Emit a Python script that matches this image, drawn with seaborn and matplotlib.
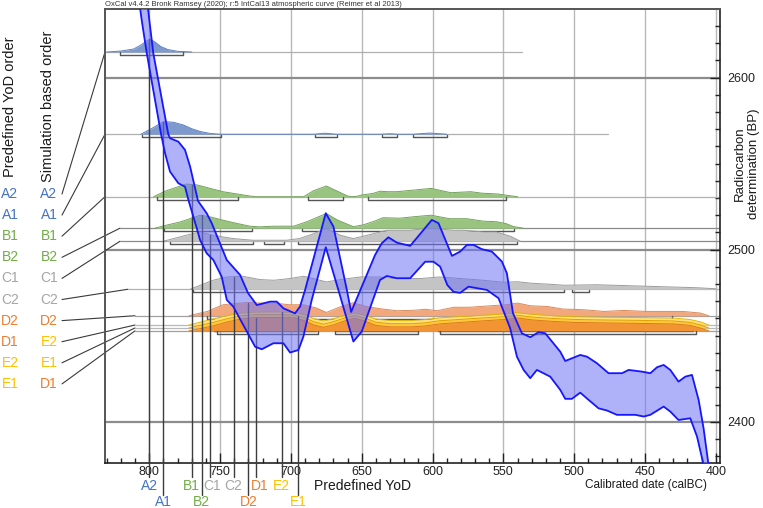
import numpy as np
import matplotlib
matplotlib.use("Agg")
import matplotlib.pyplot as plt
import matplotlib.transforms as mtransforms
import seaborn as sns

sns.set_theme(style="white")
plt.rcParams["font.family"] = ["Liberation Sans", "DejaVu Sans"]

# ---------------- data ----------------
# IntCal13 band: upper and lower edge (calBC, BP)
hi_bc = [801.6, 800.0, 797.2, 786.6, 785.4, 779.5, 774.8, 771.2, 765.6, 759.5, 755.9, 745.3,
         735.9, 730.3, 724.1, 714.7, 710.0, 705.3, 697.1, 693.6, 690.0, 675.4, 670.0, 660.5,
         657.5, 646.5, 640.6, 635.9, 631.2, 625.2, 615.8, 600.5, 595.8, 586.3, 580.5, 575.7,
         571.1, 565.2, 558.1, 551.0, 547.5, 543.2, 536.9, 531.0, 525.2, 520.4, 509.8, 506.3,
         495.7, 490.9, 483.9, 475.7, 466.2, 461.5, 452.0, 446.2, 441.4, 436.8, 432.1, 426.3,
         421.5, 416.8, 412.1, 408.6, 405.1, 403.5]
hi_bp = [2645.2, 2633.5, 2614.2, 2567.1, 2564.8, 2562.8, 2558.0, 2548.3, 2528.3, 2521.2, 2515.3, 2494.0,
         2485.3, 2474.8, 2467.8, 2469.8, 2469.8, 2465.9, 2463.0, 2466.9, 2476.6, 2521.2, 2513.4, 2476.6,
         2463.8, 2485.3, 2496.9, 2503.7, 2507.2, 2504.1, 2502.2, 2517.3, 2515.4, 2496.4, 2498.9, 2502.8,
         2502.8, 2500.3, 2498.9, 2493.1, 2486.3, 2463.1, 2451.4, 2449.1, 2452.0, 2451.4, 2440.7, 2435.3,
         2438.8, 2437.8, 2434.0, 2428.2, 2428.2, 2430.1, 2429.1, 2428.2, 2431.7, 2433.0, 2430.1, 2423.3,
         2426.2, 2427.2, 2412.7, 2396.2, 2374.9, 2365.0]
lo_bc = [807.3, 805.4, 801.8, 791.7, 788.9, 785.4, 779.5, 774.8, 772.4, 766.5, 764.2, 759.5,
         754.8, 748.9, 745.3, 740.7, 725.3, 720.6, 712.4, 705.3, 700.6, 694.7, 691.2, 685.3,
         675.4, 666.5, 655.9, 650.0, 637.1, 632.3, 625.2, 615.8, 605.2, 599.3, 594.6, 589.6,
         585.2, 580.5, 574.6, 561.6, 553.4, 545.2, 540.4, 535.7, 531.0, 526.3, 516.9, 509.8,
         506.3, 501.6, 495.7, 489.8, 482.8, 476.8, 469.8, 456.8, 450.9, 446.2, 436.8, 432.1,
         426.3, 418.0, 413.2, 408.6, 407.0]
lo_bp = [2645.2, 2633.5, 2614.2, 2567.1, 2556.1, 2545.4, 2538.6, 2536.6, 2528.9, 2512.5, 2505.7, 2497.9,
         2494.0, 2484.3, 2470.8, 2466.9, 2443.6, 2442.1, 2445.6, 2445.6, 2440.2, 2441.7, 2449.5, 2470.8,
         2501.4, 2476.6, 2446.6, 2452.4, 2482.4, 2484.7, 2483.4, 2483.4, 2493.0, 2493.0, 2490.1, 2479.5,
         2475.5, 2474.9, 2478.5, 2476.6, 2471.8, 2454.4, 2437.8, 2430.1, 2425.3, 2430.1, 2426.2, 2418.5,
         2413.3, 2413.3, 2416.9, 2412.7, 2407.8, 2406.5, 2404.0, 2404.0, 2403.0, 2404.0, 2408.8, 2405.9,
         2401.0, 2402.0, 2391.3, 2374.9, 2365.0]

# simulated distributions (calBC, relative height) and 95% ranges
a2_bc = [830, 820, 811, 806, 802, 799.5, 796, 792, 787, 780, 770]
a2_h = [0, 1, 3, 7, 11, 13, 10, 5.5, 2.5, 0.7, 0]
a2_rng = [(820.7, 776.4)]

a1_bc = [806, 798, 790, 783, 776, 770, 764, 757, 750, 684, 676, 668, 637, 630, 624, 614, 602, 590]
a1_h = [0, 6, 12.7, 12, 9.3, 5.5, 2.7, 0.8, 0, 0, 1, 0, 0, 0.5, 0, 0, 1.2, 0]
a1_rng = [(805, 749.3), (683, 667.5), (636, 625), (614, 590)]

b1_bc = [797, 788, 778, 774, 766, 757, 748, 738, 729, 725, 691, 684, 675, 668, 660, 657, 653, 650,
         642, 637, 632, 625, 618, 601, 587, 573, 565, 554, 548, 540]
b1_h = [0, 6, 10.7, 12.7, 11.7, 8.3, 5, 2.7, 0.7, 0, 0, 6, 10.7, 6, 0.7, 0, 0.5, 1.7,
        3.3, 5.5, 5, 5, 6, 8.3, 4, 5, 3.5, 2.7, 1.5, 0]
b1_rng = [(794.3, 737.5), (687.7, 662.9), (645.7, 548)]

b2_bc = [796, 788, 778, 771, 764, 757, 748, 738, 729, 722, 712, 698, 689, 675, 667, 656, 649, 641,
         635, 623, 613, 601, 588, 576, 564, 555, 548, 543, 536]
b2_h = [0, 3, 6.3, 9.7, 13, 11.3, 8, 4.7, 2, 1.3, 2, 2, 6.3, 14.7, 8, 1.5, 3.3, 7,
        10.5, 10, 11.5, 13, 9.5, 9.5, 7, 6.5, 4.5, 1.7, 0]
b2_rng = [(789.6, 727.6), (692.3, 542.2)]

c1_bc = [790, 782, 774, 764, 755, 741, 727, 719, 703, 694, 685, 675, 665, 656, 649, 637, 632, 625,
         616, 602, 585, 578, 564, 555, 545, 538]
c1_h = [0, 3, 6, 9.3, 6, 2.7, 1, 1, 1, 2.7, 7, 12.7, 6, 2.7, 5, 9.3, 11, 11,
        11, 13, 11, 11, 9.3, 9.3, 5, 0]
c1_rng = [(785.4, 726.5), (719, 704.8), (694.7, 540.4)]

c2_bc = [771, 764, 755, 745, 734, 722, 712, 701, 691, 684, 675, 665, 651, 637, 628, 618, 609, 595,
         580, 564, 550, 540, 530, 517, 507, 484, 460, 437, 413, 400]
c2_h = [0, 4, 9, 12.3, 13, 9.7, 9, 10.7, 13, 10.7, 7.3, 9.7, 12.3, 12.3, 10.7, 10.7, 10.7, 12.3,
        10.7, 9, 7, 7.5, 6, 5, 4, 4.5, 3.5, 2.5, 1.5, 0.5]
c2_rng = [(769, 507.5), (501.6, 489.8)]

d2_bc = [772, 769, 759, 748, 736, 729, 722, 712, 701, 691, 682, 675, 665, 656, 647, 637, 625, 613,
         605, 597, 585, 574, 559, 548, 540, 531, 519, 508, 493, 479, 465, 449, 437, 423, 411, 405]
d2_h = [0, 1, 4.3, 11, 12.7, 13.3, 12.7, 12.7, 11, 11, 7.7, 3.3, 9, 13, 9.3, 7, 5, 5.5,
        6.5, 5, 8.5, 8.5, 10, 11, 12.7, 10, 9.3, 6.7, 6, 4.3, 5.3, 4.3, 4.3, 4.3, 2.7, 0]
d2_rng = [(759.4, 431)]

e_bc = [772, 765, 755, 745, 735, 725, 710, 697, 690, 684, 677, 670, 660, 655, 648, 640, 630, 615,
        605, 595, 580, 565, 548, 540, 530, 515, 500, 480, 455, 430, 418, 410, 405]
e2_h = [0, 2.5, 6, 9.5, 12, 13, 13.2, 12.5, 10, 6.5, 4, 6.3, 10.5, 12, 9.8, 6, 4.5, 4.5,
        5.5, 7.2, 8.5, 9.8, 11.2, 12.3, 10.8, 9.3, 8.3, 7.8, 7.5, 7, 5.5, 2.8, 0]
e2_rng = [(757, 683), (667, 612), (597, 418)]
e1_h = [0, 2.3, 5.5, 9.3, 12.2, 13.5, 13.5, 13, 10.2, 6.3, 3.8, 6.3, 11, 12.5, 10, 5.8, 4.3, 4.2,
        5.2, 7.2, 8.6, 10, 11.5, 12.8, 11, 9.5, 8.5, 8, 7.6, 7, 5.6, 2.7, 0]
e1_rng = [(754, 682), (668, 611), (596, 416)]
d1_h = [0, 2, 5, 9, 12, 13.4, 13.4, 13, 10, 6, 3.5, 6, 11, 12.5, 10, 5.5, 4, 4,
        5, 7, 8.5, 10, 11.5, 13, 11, 9.5, 8.5, 8, 7.5, 7, 5.5, 2.5, 0]
d1_rng = [(752, 681), (669, 610), (595, 414)]

# simulation based order (top to bottom) and plotting heights (BP)
sim_order = ["A2", "A1", "B1", "B2", "C1", "C2", "D2", "E2", "E1", "D1"]
base_bp = [2614.9, 2567.1, 2530.8, 2512.5, 2504.9, 2477.0, 2461.6, 2456.2, 2454.5, 2452.8]
base_end = [536.6, 476.0, 397.0, 397.0, 397.0, 397.0, 397.0, 397.0, 397.0, 397.0]
predef_order = ["A2", "A1", "B1", "B2", "C1", "C2", "D2", "D1", "E2", "E1"]

# predefined years of death (calBC)
yod_names = ["A2", "A1", "B1", "B2", "C1", "C2", "D2", "D1", "E2", "E1"]
yod_bc = [800, 790, 770, 763, 757, 740, 730, 725, 706, 695]

header = "OxCal v4.4.2 Bronk Ramsey (2020); r:5 IntCal13 atmospheric curve (Reimer et al 2013)"

# ---------------- styling ----------------
W, H = 763, 508
HSCALE = 0.58  # BP units per unit of relative height
label_col = {"A": "#4472c4", "B": "#70ad47", "C": "#a5a5a5", "D": "#ed7d31", "E": "#ffc000"}
fill_col = {"A2": "#7d99cd", "A1": "#7d99cd", "B1": "#98c47f", "B2": "#98c47f",
            "C1": "#c4c4c4", "C2": "#c4c4c4", "D2": "#f2a87c", "E2": "#ffe07c",
            "E1": "#ffc83c", "D1": "#f29434"}
edge_col = {"A2": "#6080bd", "A1": "#6080bd", "B1": "#73a25b", "B2": "#73a25b",
            "C1": "#9c9c9c", "C2": "#9c9c9c", "D2": "#d98c5e", "E2": "#e0b400",
            "E1": "#e39f00", "D1": "#d97a1e"}
base_col = ["#b0b0b0", "#b0b0b0", "#b0b0b0", "#8a8a8a", "#8a8a8a",
            "#b0b0b0", "#a0a0a0", "#b8b8b8", "#b8b8b8", "#a0a0a0"]

fig = plt.figure(figsize=(W / 100, H / 100), dpi=100)
ax = fig.add_axes([105 / W, 1 - 463 / H, 615 / W, 454 / H])
XLIM = (831.3, 397.0)
YLIM = (2376.0, 2639.9)
ax.set_xlim(*XLIM)
ax.set_ylim(*YLIM)


def px2data(xp, yp):
    return ax.transData.inverted().transform((xp, H - yp))


# grid
for yr in range(800, 399, -50):
    ax.axvline(yr, color="#b8b8b8", lw=1, zorder=0)
for bp in (2400, 2500, 2600):
    ax.axhline(bp, color="#8c8c8c", lw=1.6, zorder=0.5)

profiles = {"A2": (a2_bc, a2_h, a2_rng), "A1": (a1_bc, a1_h, a1_rng),
            "B1": (b1_bc, b1_h, b1_rng), "B2": (b2_bc, b2_h, b2_rng),
            "C1": (c1_bc, c1_h, c1_rng), "C2": (c2_bc, c2_h, c2_rng),
            "D2": (d2_bc, d2_h, d2_rng), "E2": (e_bc, e2_h, e2_rng),
            "E1": (e_bc, e1_h, e1_rng), "D1": (e_bc, d1_h, d1_rng)}

# where the connector from the label column meets each baseline (px)
conn_x = [105, 105, 105, 120, 120, 128, 135, 135, 135, 135]
row0 = 194
row_step = 21.1

for k, name in enumerate(sim_order):
    bc, h, rng = profiles[name]
    base = base_bp[k]
    z = 2 + k * 0.1
    ly = row0 + row_step * k
    p0 = px2data(62, ly)
    start = px2data(conn_x[k], 0)[0]
    ax.plot([p0[0], start], [p0[1], base], color="#3a3a3a", lw=0.8, clip_on=False, zorder=1)
    ax.plot([start, base_end[k]], [base, base], color=base_col[k], lw=0.9, zorder=1)
    top = base + np.array(h) * HSCALE
    ax.fill_between(bc, base, top, color=fill_col[name], lw=0, zorder=z)
    ax.plot(bc, top, color=edge_col[name], lw=0.7, zorder=z + 0.01)
    for s, e in rng:
        yb = base - 1.75
        ax.plot([s, s, e, e], [base - 0.2, yb, yb, base - 0.2], color="#555555", lw=1,
                zorder=z + 0.02)
    fig.text(49 / W, 1 - ly / H, name, color=label_col[name[0]], fontsize=10,
             ha="center", va="center")
    fig.text(10 / W, 1 - ly / H, predef_order[k], color=label_col[predef_order[k][0]],
             fontsize=10, ha="center", va="center")

# predefined YoD markers
yod_row = [0, 1, 0, 1, 0, 0, 1, 0, 0, 1]
yod_dx = [0, 0, 0, 0, 1.5, -1, 0, 4, -1, 0]
row_y = [486, 502]
row_end = [477, 495]
blend = mtransforms.blended_transform_factory(ax.transData, fig.transFigure)
for name, yr, row, dx in zip(yod_names, yod_bc, yod_row, yod_dx):
    k = sim_order.index(name)
    bc, h, _ = profiles[name]
    top = base_bp[k] + np.interp(yr, bc[::-1], h[::-1]) * HSCALE
    ybot = px2data(0, row_end[row])[1]
    ax.plot([yr, yr], [ybot, top], color="#3c3c3c", lw=1, clip_on=False, zorder=4)
    tr = mtransforms.offset_copy(blend, fig=fig, x=dx, y=0, units="dots")
    ax.text(yr, 1 - row_y[row] / H, name, transform=tr, color=label_col[name[0]],
            fontsize=10, ha="center", va="center", clip_on=False)

fig.text(314 / W, 1 - 486 / H, "Predefined YoD", fontsize=10, ha="left", va="center",
         color="#1a1a1a")

# calibration curve band
ax.fill(np.r_[hi_bc, lo_bc[::-1]], np.r_[hi_bp, lo_bp[::-1]], color="#7074f5",
        alpha=0.55, lw=0, zorder=6)
sns.lineplot(x=hi_bc, y=hi_bp, ax=ax, color="#1616ff", lw=1.3, estimator=None,
             sort=False, zorder=7)
sns.lineplot(x=lo_bc, y=lo_bp, ax=ax, color="#1616ff", lw=1.3, estimator=None,
             sort=False, zorder=7)

# axes
ax.set_xlim(*XLIM)
ax.set_ylim(*YLIM)
ax.set_xlabel("")
ax.set_ylabel("")
ax.set_xticks(list(range(800, 399, -50)))
ax.set_xticks(list(range(830, 396, -10)), minor=True)
ax.yaxis.tick_right()
ax.set_yticks([2400, 2500, 2600])
ax.set_yticks(list(range(2380, 2640, 10)), minor=True)
ax.tick_params(axis="x", which="both", direction="in", bottom=True, top=False,
               labelsize=9, pad=2.5, colors="#222222", width=1)
ax.tick_params(axis="x", which="major", length=7)
ax.tick_params(axis="x", which="minor", length=3.5)
ax.tick_params(axis="y", which="both", direction="in", left=False, right=True,
               labelleft=False, labelright=True, labelsize=9, pad=5,
               colors="#222222", width=1)
ax.tick_params(axis="y", which="major", length=7)
ax.tick_params(axis="y", which="minor", length=3.5)
for side in ("left", "top"):
    ax.spines[side].set_color("#555555")
    ax.spines[side].set_linewidth(1.4)
for side in ("right", "bottom"):
    ax.spines[side].set_color("#222222")
    ax.spines[side].set_linewidth(1.2)

fig.text(707 / W, 1 - 485 / H, "Calibrated date (calBC)", fontsize=8.5, ha="right",
         va="center", color="#1a1a1a")
fig.text(747 / W, 1 - 164 / H, "Radiocarbon\ndetermination (BP)", fontsize=9.5,
         rotation=90, ha="center", va="center", multialignment="center", color="#1a1a1a")
fig.text(10 / W, 1 - 107 / H, "Predefined YoD order", fontsize=10.5, rotation=90,
         ha="center", va="center", color="#1a1a1a")
fig.text(48 / W, 1 - 106 / H, "Simulation based order", fontsize=10.5, rotation=90,
         ha="center", va="center", color="#1a1a1a")
fig.text(105 / W, 1 - 4.5 / H, header, fontsize=5.5, ha="left", va="center", color="#333333")

fig.savefig("out.png", dpi=100)
